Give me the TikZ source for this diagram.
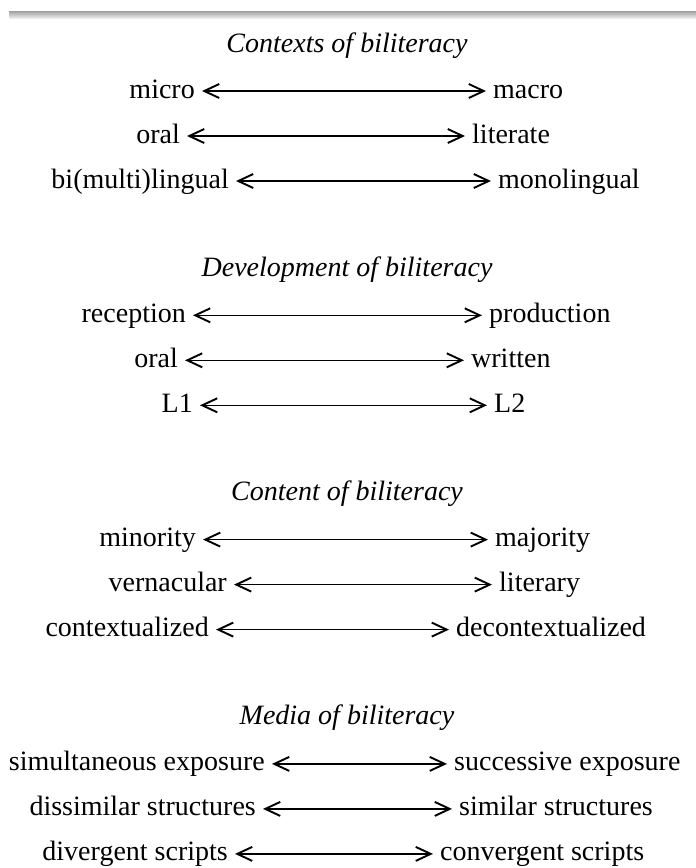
\documentclass[tikz,border=0pt]{standalone}
\usepackage{fontspec}
\setmainfont{Liberation Serif}
\newfontfamily\timesfont{Liberation Serif}
\usetikzlibrary{arrows.meta}
\tikzset{
  pole/.style={inner xsep=7pt, inner ysep=0pt, text height=20pt, text depth=6pt,
    font=\timesfont\fontsize{28}{34}\selectfont},
  heading/.style={inner sep=0pt, font=\timesfont\fontsize{28}{34}\selectfont\itshape},
  continuum line/.style={line width=1.4pt,
    {Straight Barb[length=15pt, width=14pt, line width=1.9pt]}-{Straight Barb[length=15pt, width=14pt, line width=1.9pt]}}
}
% #1 left name, #2 left text, #3 x of "<", #4 right name, #5 right text, #6 x of ">", #7 baseline
\newcommand{\continuum}[7]{%
  \node[pole, anchor=base east] (#1) at (#3,#7) {#2};
  \node[pole, anchor=base west] (#4) at (#6,#7) {#5};
  \draw[continuum line] (#1) -- (#4);
}

\begin{document}
\begin{tikzpicture}[x=1pt, y=-1pt]
  \useasboundingbox (0,0) rectangle (696,868);

  % rule at the top of the page
  \shade[top color=gray!75, bottom color=gray!15] (9,11) rectangle (696,18);

  % GROUP 1: contexts
  \node[heading, anchor=base] (contexts) at (347,52) {Contexts of biliteracy};
  \continuum{micro}{micro}{202}{macro}{macro}{486}{98}
  \continuum{oralA}{oral}{187}{literate}{literate}{465}{143}
  \continuum{bimulti}{bi(multi)lingual}{236}{mono}{monolingual}{491}{188}

  % GROUP 2: development
  \node[heading, anchor=base] (development) at (347,276.3) {Development of biliteracy};
  \continuum{reception}{reception}{193}{production}{production}{482}{322.3}
  \continuum{oralB}{oral}{185}{written}{written}{464}{367.3}
  \continuum{Lone}{L1}{200}{Ltwo}{L2}{487}{412.3}

  % GROUP 3: content
  \node[heading, anchor=base] (content) at (347,500.6) {Content of biliteracy};
  \continuum{minority}{minority}{203}{majority}{majority}{488}{546.6}
  \continuum{vernacular}{vernacular}{234}{literary}{literary}{492}{591.6}
  \continuum{context}{contextualized}{216}{decontext}{decontextualized}{449}{636.6}

  % GROUP 4: media
  \node[heading, anchor=base] (media) at (347,724.9) {Media of biliteracy};
  \continuum{simul}{simultaneous exposure}{272}{success}{successive exposure}{447}{770.9}
  \continuum{dissim}{dissimilar structures}{263}{similar}{similar structures}{452}{815.9}
  \continuum{diverg}{divergent scripts}{235}{converg}{convergent scripts}{433}{860.9}
\end{tikzpicture}
\end{document}
